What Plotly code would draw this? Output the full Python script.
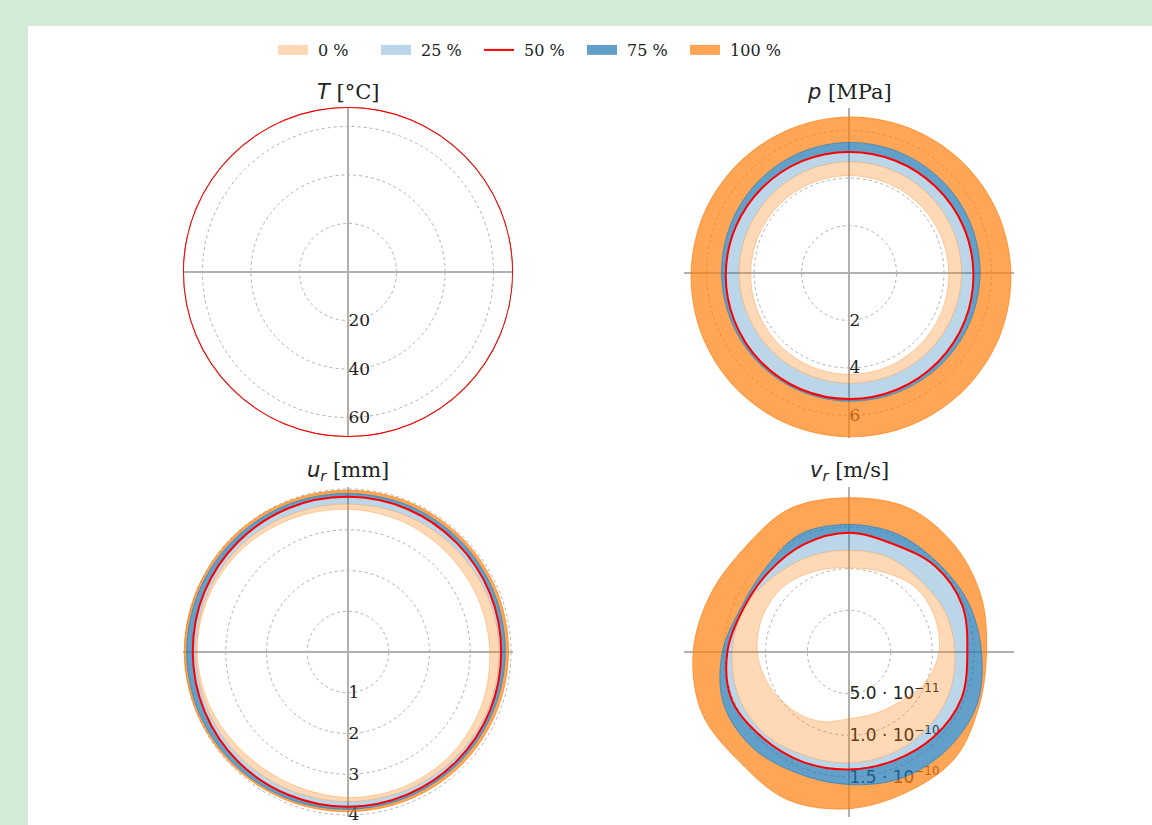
import plotly.graph_objects as go

# ---- data -----------------------------------------------------------------
# angular positions (degrees) at which the percentile envelopes are sampled
theta16 = [0, 22.5, 45, 67.5, 90, 112.5, 135, 157.5,
           180, 202.5, 225, 247.5, 270, 292.5, 315, 337.5]

# temperature [°C] – all percentiles coincide
T_q0 = [68.0] * 16
T_q25 = [68.0] * 16
T_q50 = [68.0] * 16
T_q75 = [68.0] * 16
T_q100 = [68.0] * 16

# pore pressure [MPa]
p_q0 = [4.20, 4.17, 4.14, 4.11, 4.10, 4.10, 4.11, 4.12,
        4.14, 4.17, 4.21, 4.25, 4.27, 4.27, 4.25, 4.23]
p_q25 = [4.74, 4.73, 4.71, 4.70, 4.69, 4.67, 4.64, 4.63,
         4.63, 4.62, 4.62, 4.63, 4.64, 4.67, 4.70, 4.72]
p_q50 = [5.24, 5.20, 5.15, 5.12, 5.10, 5.11, 5.12, 5.15,
         5.19, 5.23, 5.27, 5.30, 5.31, 5.31, 5.30, 5.28]
p_q75 = [5.52, 5.53, 5.52, 5.51, 5.50, 5.47, 5.43, 5.39,
         5.37, 5.36, 5.37, 5.38, 5.40, 5.43, 5.47, 5.50]
p_q100 = [6.82, 6.75, 6.68, 6.61, 6.57, 6.55, 6.56, 6.60,
          6.65, 6.72, 6.80, 6.86, 6.90, 6.92, 6.91, 6.88]

# radial displacement [mm]
u_q0 = [3.48, 3.45, 3.44, 3.47, 3.50, 3.55, 3.62, 3.68,
        3.70, 3.64, 3.55, 3.53, 3.57, 3.58, 3.57, 3.53]
u_q25 = [3.71, 3.69, 3.66, 3.64, 3.63, 3.66, 3.71, 3.73,
         3.73, 3.72, 3.70, 3.68, 3.67, 3.68, 3.70, 3.71]
u_q50 = [3.76, 3.77, 3.78, 3.80, 3.81, 3.82, 3.82, 3.82,
         3.81, 3.81, 3.81, 3.80, 3.80, 3.79, 3.78, 3.77]
u_q75 = [3.86, 3.87, 3.88, 3.89, 3.89, 3.91, 3.93, 3.95,
         3.96, 3.95, 3.92, 3.89, 3.86, 3.85, 3.85, 3.85]
u_q100 = [3.94, 3.95, 3.96, 3.97, 3.97, 3.98, 4.00, 4.01,
          4.02, 4.00, 3.97, 3.94, 3.92, 3.92, 3.93, 3.93]

# radial velocity [1e-10 m/s]
v_q0 = [1.08, 1.11, 1.11, 1.04, 1.01, 1.05, 1.11, 1.12,
        1.10, 1.04, 0.97, 0.90, 0.80, 0.80, 0.85, 0.98]
v_q25 = [1.27, 1.25, 1.21, 1.23, 1.22, 1.24, 1.28, 1.37,
         1.40, 1.43, 1.41, 1.35, 1.33, 1.32, 1.31, 1.30]
v_q50 = [1.42, 1.47, 1.46, 1.40, 1.43, 1.40, 1.36, 1.37,
         1.46, 1.52, 1.46, 1.43, 1.41, 1.41, 1.44, 1.46]
v_q75 = [1.59, 1.55, 1.51, 1.53, 1.53, 1.53, 1.42, 1.40,
         1.52, 1.63, 1.63, 1.58, 1.59, 1.64, 1.66, 1.66]
v_q100 = [1.65, 1.72, 1.80, 1.87, 1.85, 1.86, 1.77, 1.80,
          1.87, 1.91, 1.86, 1.92, 1.88, 1.82, 1.80, 1.69]
V_UNIT = 1e-10

# radial tick values / labels
T_ticks = [20, 40, 60]
p_ticks = [2, 4, 6]
u_ticks = [1, 2, 3, 4]
v_ticks = [5.0e-11, 1.0e-10, 1.5e-10]
v_ticklabels = ["5.0 · 10<sup>−11</sup>", "1.0 · 10<sup>−10</sup>", "1.5 · 10<sup>−10</sup>"]

band_names = ["0 %", "25 %", "50 %", "75 %", "100 %"]

# ---- styling ----------------------------------------------------------------
PEACH = "rgba(255,127,14,0.3)"
LIGHTBLUE = "rgba(31,119,180,0.3)"
BLUE = "rgba(31,119,180,0.7)"
ORANGE = "rgba(255,127,14,0.7)"
MEDIAN = "#ff0000"
GRID = "#b0b0b0"
SERIF = "DejaVu Serif"
SANS = "DejaVu Sans"

W, H = 1152, 825
RADIUS = 165


def closed(th, r, scale=1.0):
    return list(th) + [th[0]], [v * scale for v in r] + [r[0] * scale]


def add_panel(fig, subplot, theta, q0, q25, q50, q75, q100, scale=1.0):
    curves = [q0, q25, q50, q75, q100]
    fills = [None, PEACH, LIGHTBLUE, BLUE, ORANGE]
    for i, r in enumerate(curves):
        th, rr = closed(theta, r, scale)
        kw = dict(
            r=rr, theta=th, subplot=subplot, mode="lines",
            line=dict(color=fills[i] if fills[i] else PEACH, width=1, shape="spline"),
            hoverinfo="skip", showlegend=False,
        )
        if fills[i]:
            kw.update(fill="tonext", fillcolor=fills[i])
        fig.add_trace(go.Scatterpolar(**kw))
    th, rr = closed(theta, q50, scale)
    fig.add_trace(go.Scatterpolar(
        r=rr, theta=th, subplot=subplot, mode="lines",
        line=dict(color=MEDIAN, width=2, shape="spline"),
        showlegend=False, hoverinfo="skip"))


fig = go.Figure()
add_panel(fig, "polar", theta16, T_q0, T_q25, T_q50, T_q75, T_q100)
add_panel(fig, "polar2", theta16, p_q0, p_q25, p_q50, p_q75, p_q100)
add_panel(fig, "polar3", theta16, u_q0, u_q25, u_q50, u_q75, u_q100)
add_panel(fig, "polar4", theta16, v_q0, v_q25, v_q50, v_q75, v_q100, V_UNIT)

# legend keys: wide patches for the bands, a thin line for the median
legend_keys = [(band_names[0], PEACH, 12), (band_names[1], LIGHTBLUE, 12),
               (band_names[2], MEDIAN, 2), (band_names[3], BLUE, 12),
               (band_names[4], ORANGE, 12)]
for rank, (name, color, width) in enumerate(legend_keys, start=1):
    fig.add_trace(go.Scatterpolar(
        r=[None], theta=[None], subplot="polar", mode="lines",
        line=dict(color=color, width=width), name="\u00a0" + name,
        legendrank=rank, showlegend=True, hoverinfo="skip"))


def polar_layout(cx, cy, rmax, tickvals, ticktext, tickfamily, ticksize):
    return dict(
        domain=dict(x=[(cx - RADIUS) / W, (cx + RADIUS) / W],
                    y=[1 - (cy + RADIUS) / H, 1 - (cy - RADIUS) / H]),
        bgcolor="rgba(0,0,0,0)",
        radialaxis=dict(
            range=[0, rmax], tickvals=tickvals, ticktext=ticktext,
            showline=False, ticks="", angle=270, side="counterclockwise",
            tickangle=-90,
            gridcolor=GRID, griddash="dot", gridwidth=1.2,
            layer="below traces",
            tickfont=dict(family=tickfamily, size=ticksize, color="#222222"),
        ),
        angularaxis=dict(
            tickvals=[0, 90, 180, 270], showticklabels=False, ticks="",
            showline=False, gridcolor=GRID, gridwidth=1.5,
            layer="below traces",
        ),
    )


fig.update_layout(
    width=W, height=H, autosize=False,
    margin=dict(l=0, r=0, t=0, b=0),
    paper_bgcolor="#d3ead6",
    template="none",
    polar=polar_layout(348, 272, 68, T_ticks, [str(v) for v in T_ticks], SERIF, 17),
    polar2=polar_layout(849, 273, 6.95, p_ticks, [str(v) for v in p_ticks], SERIF, 17),
    polar3=polar_layout(348, 652, 4.05, u_ticks, [str(v) for v in u_ticks], SERIF, 17),
    polar4=polar_layout(849, 652, 1.98e-10, v_ticks, v_ticklabels, SANS, 17),
    legend=dict(
        orientation="h", x=273 / W, xanchor="left", y=1 - 33 / H, yanchor="top",
        font=dict(family=SERIF, size=16, color="#222222"),
        bgcolor="rgba(0,0,0,0)", entrywidth=58, traceorder="normal",
    ),
    shapes=[dict(type="rect", xref="paper", yref="paper", layer="below",
                 x0=28 / W, x1=1, y0=0, y1=1 - 26 / H,
                 fillcolor="white", line=dict(width=0))],
)

titles = [
    (348, "<span style='font-family:DejaVu Sans'><i>T</i></span> [°C]"),
    (849, "<span style='font-family:DejaVu Sans'><i>p</i></span> [MPa]"),
    (348, "<span style='font-family:DejaVu Sans'><i>u<sub>r</sub></i></span> [mm]"),
    (849, "<span style='font-family:DejaVu Sans'><i>v<sub>r</sub></i></span> [m/s]"),
]
for k, (cx, txt) in enumerate(titles):
    cy = 92 if k < 2 else 471
    fig.add_annotation(x=cx / W, y=1 - cy / H, xref="paper", yref="paper",
                       text=txt, showarrow=False, xanchor="center", yanchor="middle",
                       font=dict(family=SERIF, size=21, color="#222222"))

fig.write_html("out.html")
